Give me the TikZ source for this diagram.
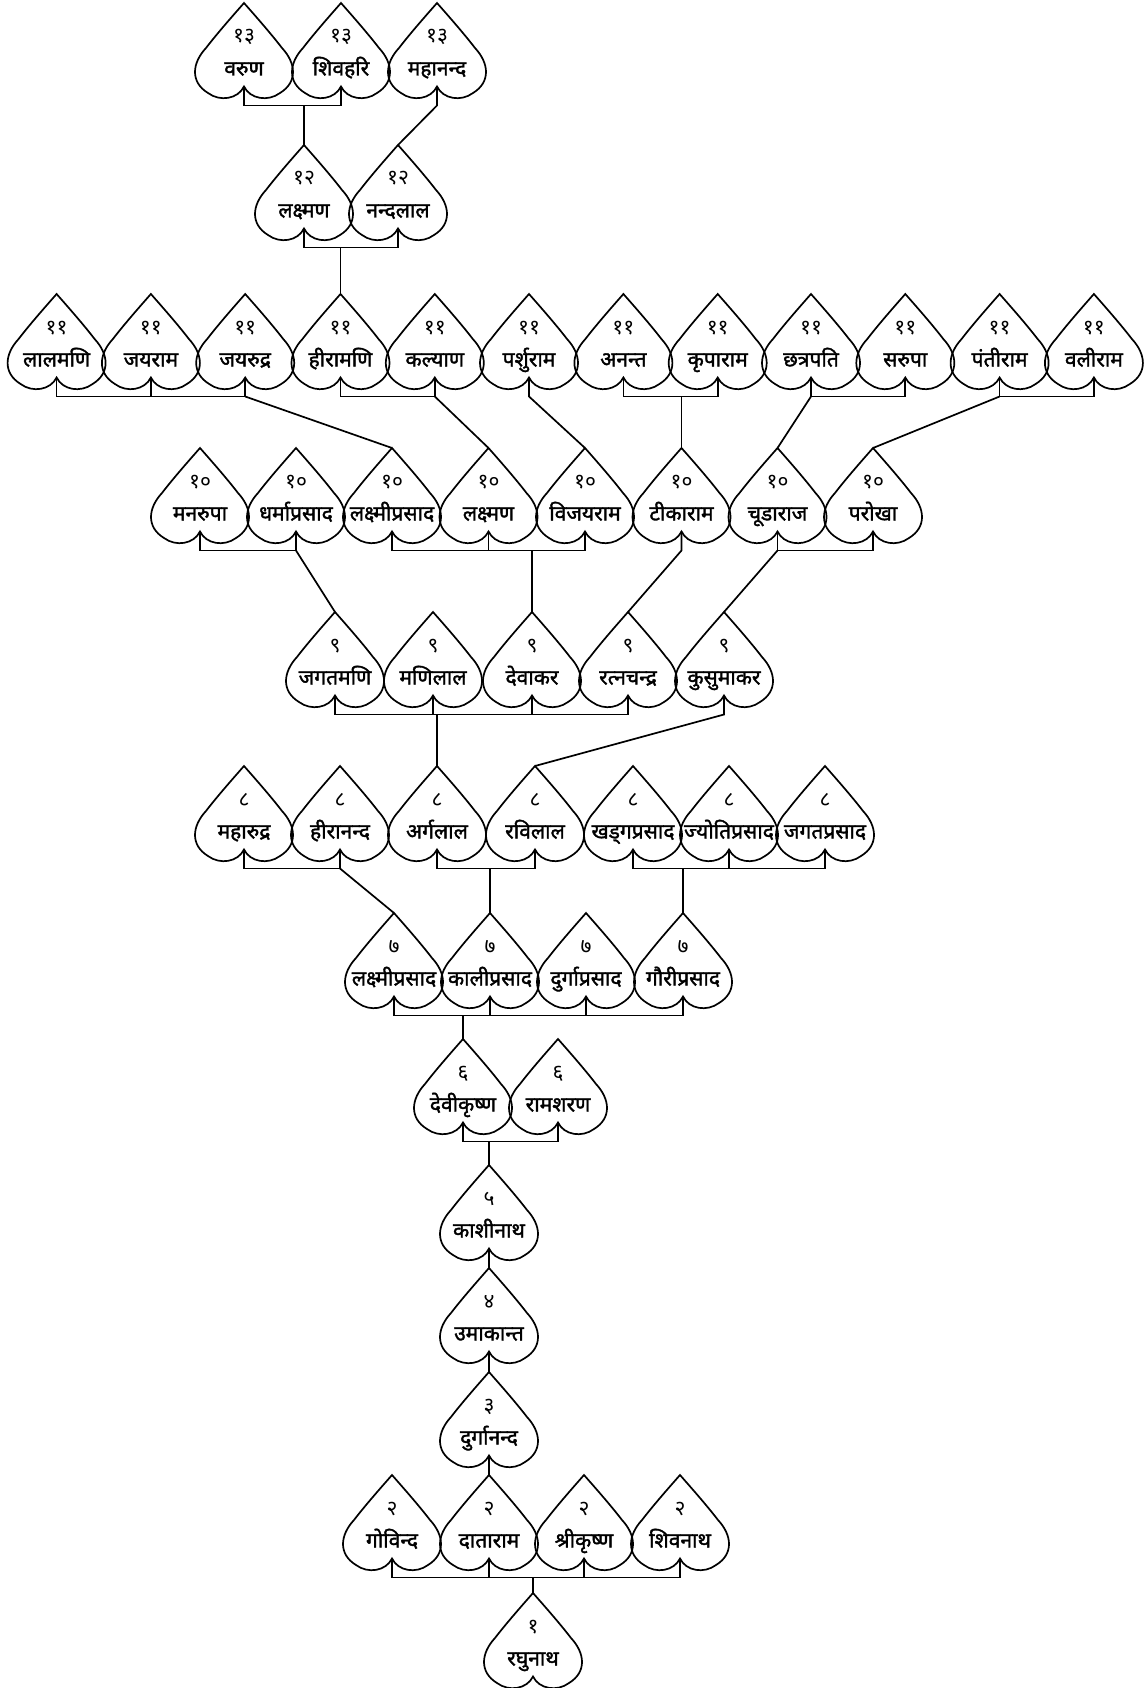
\documentclass[tikz,border=0pt]{standalone}
\usepackage{fontspec}
\newfontfamily\dev[Script=Devanagari]{Noto Sans}
\newfontfamily\devb[Script=Devanagari,FakeBold=1.6]{Noto Sans}
\tikzset{
  outline/.style={draw=black, line width=1.7pt, line join=miter},
  conn/.style={draw=black, line width=1.7pt},
  numtext/.style={anchor=base, inner sep=0pt, font=\dev\fontsize{21}{23}\selectfont},
  nametext/.style={anchor=base, inner sep=0pt, font=\devb\fontsize{21}{24}\selectfont},
}
\newcommand\person[5]{%
  \coordinate (#1-top) at (#2,#3);
  \coordinate (#1-bot) at (#2,#3+83.5);
  \begin{scope}[shift={(#2,#3)}]
    \draw[outline] (0,0) .. controls (-15,17) and (-28,32) .. (-38,45)
      .. controls (-52,60) and (-54,79) .. (-36,90)
      .. controls (-24,99) and (-6,96) .. (0,83.5)
      .. controls (6,96) and (24,99) .. (36,90)
      .. controls (54,79) and (52,60) .. (38,45)
      .. controls (28,32) and (15,17) .. (0,0) -- cycle;
  \end{scope}
  \node[numtext] (#1-num) at (#2,#3+40) {#4};
  \node[nametext] (#1) at (#2,#3+72.5) {#5};
}
\begin{document}
\begin{tikzpicture}[x=1pt,y=-1pt]
\fill[white] (0,0) rectangle (1147,1688);
\useasboundingbox (0,0) rectangle (1147,1688);
% row 13
\person{varun}{244}{3}{१३}{वरुण}
\person{shivahari}{341}{3}{१३}{शिवहरि}
\person{mahananda}{437}{3}{१३}{महानन्द}
% row 12
\person{lakshmanA}{304}{145}{१२}{लक्ष्मण}
\person{nandalal}{398}{145}{१२}{नन्दलाल}
% row 11
\person{lalamani}{56.6}{294}{११}{लालमणि}
\person{jayaram}{150.9}{294}{११}{जयराम}
\person{jayarudra}{245.2}{294}{११}{जयरुद्र}
\person{hiramani}{340.5}{294}{११}{हीरामणि}
\person{kalyan}{434.8}{294}{११}{कल्याण}
\person{parshuram}{529}{294}{११}{पर्शुराम}
\person{anant}{623.4}{294}{११}{अनन्त}
\person{kriparam}{717.7}{294}{११}{कृपाराम}
\person{chatrapati}{811}{294}{११}{छत्रपति}
\person{sarupa}{905.3}{294}{११}{सरुपा}
\person{pantiram}{999.6}{294}{११}{पंतीराम}
\person{valiram}{1093.9}{294}{११}{वलीराम}
% row 10
\person{manarupa}{200}{448}{१०}{मनरुपा}
\person{dharma}{296}{448}{१०}{धर्माप्रसाद}
\person{lakshmiprasadA}{392}{448}{१०}{लक्ष्मीप्रसाद}
\person{lakshmanB}{488.5}{448}{१०}{लक्ष्मण}
\person{vijayaram}{585}{448}{१०}{विजयराम}
\person{tikaram}{681.5}{448}{१०}{टीकाराम}
\person{chudaraj}{777.5}{448}{१०}{चूडाराज}
\person{parokha}{873}{448}{१०}{परोखा}
% row 9
\person{jagatmani}{335}{612}{९}{जगतमणि}
\person{manilal}{433}{612}{९}{मणिलाल}
\person{devakar}{532}{612}{९}{देवाकर}
\person{ratnachandra}{628}{612}{९}{रत्नचन्द्र}
\person{kusumakar}{724}{612}{९}{कुसुमाकर}
% row 8
\person{maharudra}{244}{766}{८}{महारुद्र}
\person{hirananda}{340}{766}{८}{हीरानन्द}
\person{arglal}{437}{766}{८}{अर्गलाल}
\person{ravilal}{535}{766}{८}{रविलाल}
\person{khadga}{633}{766}{८}{खड्गप्रसाद}
\person{jyoti}{729}{766}{८}{ज्योतिप्रसाद}
\person{jagatprasad}{825}{766}{८}{जगतप्रसाद}
% row 7
\person{lakshmiprasadB}{394}{913}{७}{लक्ष्मीप्रसाद}
\person{kaliprasad}{490}{913}{७}{कालीप्रसाद}
\person{durgaprasad}{586}{913}{७}{दुर्गाप्रसाद}
\person{gauri}{683}{913}{७}{गौरीप्रसाद}
% row 6
\person{devikrishna}{463}{1039}{६}{देवीकृष्ण}
\person{ramsharan}{558}{1039}{६}{रामशरण}
% rows 5-3
\person{kashinath}{489}{1165}{५}{काशीनाथ}
\person{umakant}{489}{1268}{४}{उमाकान्त}
\person{durgananda}{489}{1372}{३}{दुर्गानन्द}
% row 2
\person{govinda}{392}{1475}{२}{गोविन्द}
\person{dataram}{489}{1475}{२}{दाताराम}
\person{shrikrishna}{584}{1475}{२}{श्रीकृष्ण}
\person{shivanath}{680}{1475}{२}{शिवनाथ}
% row 1
\person{raghunath}{533}{1593}{१}{रघुनाथ}

% connectors 13 -> 12
\draw[conn] (varun-bot) -- ++(0,19) coordinate (b13) -| (shivahari-bot);
\draw[conn] (b13 -| lakshmanA-top) -- (lakshmanA-top);
\draw[conn] (mahananda-bot) -- ++(0,19) -- (nandalal-top);
% 12 -> 11
\draw[conn] (lakshmanA-bot) -- ++(0,19) coordinate (b12) -| (nandalal-bot);
\draw[conn] (b12 -| hiramani-top) -- (hiramani-top);
% 11 -> 10
\draw[conn] (lalamani-bot) -- ++(0,19) coordinate (b11a) -| (jayarudra-bot);
\draw[conn] (jayaram-bot) -- (jayaram-bot |- b11a);
\draw[conn] (b11a -| jayarudra-bot) -- (lakshmiprasadA-top);
\draw[conn] (hiramani-bot) -- ++(0,19) coordinate (b11b) -| (kalyan-bot);
\draw[conn] (b11b -| kalyan-bot) -- (lakshmanB-top);
\draw[conn] (parshuram-bot) -- ++(0,19) -- (vijayaram-top);
\draw[conn] (anant-bot) -- ++(0,19) coordinate (b11c) -| (kriparam-bot);
\draw[conn] (b11c -| tikaram-top) -- (tikaram-top);
\draw[conn] (chatrapati-bot) -- ++(0,19) coordinate (b11d) -| (sarupa-bot);
\draw[conn] (b11d) -- (chudaraj-top);
\draw[conn] (pantiram-bot) -- ++(0,19) coordinate (b11e) -| (valiram-bot);
\draw[conn] (b11e) -- (parokha-top);
% 10 -> 9
\draw[conn] (manarupa-bot) -- ++(0,19) coordinate (b10a) -| (dharma-bot);
\draw[conn] (b10a -| dharma-bot) -- (jagatmani-top);
\draw[conn] (lakshmiprasadA-bot) -- ++(0,19) coordinate (b10b) -| (vijayaram-bot);
\draw[conn] (lakshmanB-bot) -- (lakshmanB-bot |- b10b);
\draw[conn] (b10b -| devakar-top) -- (devakar-top);
\draw[conn] (tikaram-bot) -- ++(0,19) -- (ratnachandra-top);
\draw[conn] (chudaraj-bot) -- ++(0,19) coordinate (b10c) -| (parokha-bot);
\draw[conn] (b10c) -- (kusumakar-top);
% 9 -> 8
\draw[conn] (jagatmani-bot) -- ++(0,19) coordinate (b9) -| (ratnachandra-bot);
\draw[conn] (manilal-bot) -- (manilal-bot |- b9);
\draw[conn] (devakar-bot) -- (devakar-bot |- b9);
\draw[conn] (b9 -| arglal-top) -- (arglal-top);
\draw[conn] (kusumakar-bot) -- ++(0,19) -- (ravilal-top);
% 8 -> 7
\draw[conn] (maharudra-bot) -- ++(0,19) coordinate (b8a) -| (hirananda-bot);
\draw[conn] (b8a -| hirananda-bot) -- (lakshmiprasadB-top);
\draw[conn] (arglal-bot) -- ++(0,19) coordinate (b8b) -| (ravilal-bot);
\draw[conn] (b8b -| kaliprasad-top) -- (kaliprasad-top);
\draw[conn] (khadga-bot) -- ++(0,19) coordinate (b8c) -| (jagatprasad-bot);
\draw[conn] (jyoti-bot) -- (jyoti-bot |- b8c);
\draw[conn] (b8c -| gauri-top) -- (gauri-top);
% 7 -> 6
\draw[conn] (lakshmiprasadB-bot) -- ++(0,19) coordinate (b7) -| (gauri-bot);
\draw[conn] (kaliprasad-bot) -- (kaliprasad-bot |- b7);
\draw[conn] (durgaprasad-bot) -- (durgaprasad-bot |- b7);
\draw[conn] (b7 -| devikrishna-top) -- (devikrishna-top);
% 6 -> 5
\draw[conn] (devikrishna-bot) -- ++(0,19) coordinate (b6) -| (ramsharan-bot);
\draw[conn] (b6 -| kashinath-top) -- (kashinath-top);
% 5 -> 2
\draw[conn] (kashinath-bot) -- (umakant-top);
\draw[conn] (umakant-bot) -- (durgananda-top);
\draw[conn] (durgananda-bot) -- (dataram-top);
% 2 -> 1
\draw[conn] (govinda-bot) -- ++(0,19) coordinate (b2) -| (shivanath-bot);
\draw[conn] (dataram-bot) -- (dataram-bot |- b2);
\draw[conn] (shrikrishna-bot) -- (shrikrishna-bot |- b2);
\draw[conn] (b2 -| raghunath-top) -- (raghunath-top);
\end{tikzpicture}
\end{document}
